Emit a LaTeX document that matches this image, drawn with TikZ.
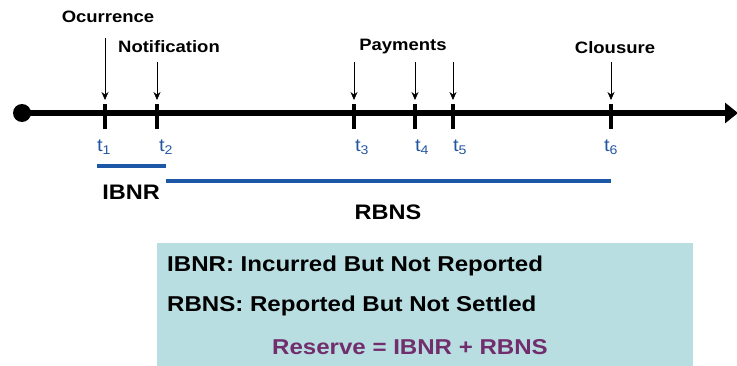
\documentclass[tikz,border=0pt]{standalone}
\usepackage{fontspec}
\setmainfont{Liberation Sans}[FakeStretch=1.12]
\usetikzlibrary{arrows.meta,positioning}
\definecolor{tblue}{RGB}{36,86,160}
\definecolor{lineblue}{RGB}{28,88,165}
\definecolor{boxteal}{RGB}{184,222,226}
\definecolor{respurple}{RGB}{114,46,108}

\begin{document}
\begin{tikzpicture}[x=1pt,y=-1pt,
  event/.style={font=\fontsize{16.5}{18}\selectfont\bfseries, inner sep=1pt},
  tlab/.style={font=\fontsize{18}{18}\selectfont, text=tblue, inner sep=1pt},
  pointer/.style={-{Stealth[length=8pt,width=7pt]}, line width=0.7pt},
  span/.style={lineblue, line width=3.2pt},
  period/.style={font=\fontsize{21}{24}\selectfont\bfseries},
  legendtext/.style={font=\fontsize{21.5}{24}\selectfont\bfseries, inner sep=0pt, anchor=west}]
\useasboundingbox (0,0) rectangle (737,366);
% time axis
\node[circle, fill, minimum size=18pt, inner sep=0pt] (start) at (22,113) {};
\coordinate (end) at (738,113);
\draw[line width=5.6pt, -{Triangle[length=13pt,width=20pt]}] (start.center) -- (end);
\foreach \n/\x in {1/105,2/157,3/354,4/415,5/453,6/611}{
  \coordinate (t\n) at (\x,113);
  \draw[line width=3.4pt] (\x,104) -- (\x,129);
  \coordinate (top\n) at (\x,100);
}
\node[tlab] (lt1) at (104,147) {t\textsubscript{1}};
\node[tlab] (lt2) at (166,147) {t\textsubscript{2}};
\node[tlab] (lt3) at (362,147) {t\textsubscript{3}};
\node[tlab] (lt4) at (422,147) {t\textsubscript{4}};
\node[tlab] (lt5) at (460,147) {t\textsubscript{5}};
\node[tlab] (lt6) at (611,147) {t\textsubscript{6}};
% events
\node[event] (occ) at (108,17) {Ocurrence};
\node[event] (notif) at (169,47) {Notification};
\node[event] (pay) at (403,47) {Payments};
\node[event] (clos) at (615,48) {Clousure};
\coordinate (a1) at (105,38);
\coordinate (a2) at (157,62);
\coordinate (a3) at (354,62);
\coordinate (a4) at (415,62);
\coordinate (a5) at (453,62);
\coordinate (a6) at (611,62);
\foreach \n in {1,...,6}
  \draw[pointer] (a\n) -- (top\n);
% periods
\coordinate (ib1) at (97,166);
\coordinate (ib2) at (166,166);
\coordinate (rb1) at (166,181);
\coordinate (rb2) at (611,181);
\draw[span] (ib1) -- (ib2);
\draw[span] (rb1) -- (rb2);
\node[period] (ibnr) at (131,192) {IBNR};
\node[period] (rbns) at (388,212) {RBNS};
% legend
\node[fill=boxteal, minimum width=536pt, minimum height=123pt, anchor=north west, inner sep=0pt] (legend) at (157,243) {};
\node[legendtext] (def1) at (167,266) {IBNR: Incurred But Not Reported};
\node[legendtext] (def2) at (167,306) {RBNS: Reported But Not Settled};
\node[font=\fontsize{21.5}{24}\selectfont\bfseries, text=respurple] (reserve) at (410,347) {Reserve = IBNR + RBNS};
\end{tikzpicture}
\end{document}
